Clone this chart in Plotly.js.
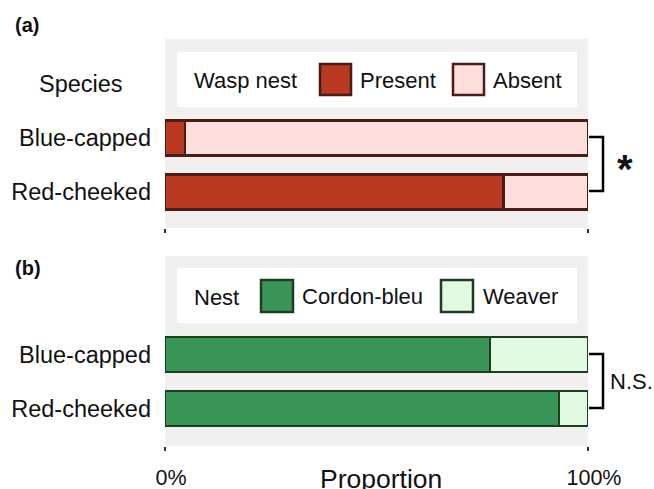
<!DOCTYPE html>
<html>
<head>
<meta charset="utf-8">
<script src="https://cdn.plot.ly/plotly-3.0.1.min.js"></script>
<style>html,body{margin:0;padding:0;background:#fff;}#chart{width:654px;height:489px;}</style>
</head>
<body>
<div id="chart"></div>
<script>
// ---- data ----
const species = ['Red-cheeked', 'Blue-capped'];
const waspPresent = [0.80, 0.047];
const waspAbsent = [0.20, 0.953];
const nestCordon = [0.931, 0.768];
const nestWeaver = [0.069, 0.232];
const xTickVals = [0, 1];
const xTickText = ['0%', '100%'];
const waspLegend = ['Present', 'Absent'];
const nestLegend = ['Cordon-bleu', 'Weaver'];

// ---- styles ----
const FONT = 'Liberation Sans, Arial, Helvetica, sans-serif';
const TXT = '#111111';
const RED = '#B73A21', PINK = '#FDDEDB', RED_EDGE = '#4B1B16';
const GREEN = '#3A9558', MINT = '#E2F9E2', GREEN_EDGE = '#1B3F1F';
const BG = '#F1EFEF';

const W = 654, H = 489, ML = 165, MR = 66, MT = 39, MB = 43;
const PW = W - ML - MR, PH = H - MT - MB;
const px = x => (x - ML) / PW;
const py = y => (H - MB - y) / PH;

function bar(name, x, color, edge, xa, ya) {
  return {
    type: 'bar', orientation: 'h', name: name, y: species, x: x,
    xaxis: xa, yaxis: ya,
    marker: {color: color, line: {color: edge, width: 2.5}},
    showlegend: false, hoverinfo: 'x+y'
  };
}

const data = [
  bar(waspLegend[0], waspPresent, RED, RED_EDGE, 'x', 'y'),
  bar(waspLegend[1], waspAbsent, PINK, RED_EDGE, 'x', 'y'),
  bar(nestLegend[0], nestCordon, GREEN, GREEN_EDGE, 'x2', 'y2'),
  bar(nestLegend[1], nestWeaver, MINT, GREEN_EDGE, 'x2', 'y2')
];

function rect(x0, y0, x1, y1, fill, edge, lw) {
  return {type: 'rect', xref: 'paper', yref: 'paper', x0: px(x0), x1: px(x1), y0: py(y1), y1: py(y0),
    fillcolor: fill, line: {color: edge || fill, width: lw || 0}, layer: 'above'};
}
function bracket(x0, x1, y0, y1) {
  return {type: 'path', xref: 'paper', yref: 'paper',
    path: `M${px(x0)},${py(y0)} L${px(x1)},${py(y0)} L${px(x1)},${py(y1)} L${px(x0)},${py(y1)}`,
    line: {color: '#000', width: 2.5}, layer: 'above'};
}
function txt(text, x, y, size, anchor, extra) {
  return Object.assign({text: text, xref: 'paper', yref: 'paper', x: px(x), y: py(y),
    xanchor: anchor || 'left', yanchor: 'middle', showarrow: false,
    font: {family: FONT, size: size, color: TXT}}, extra || {});
}

const shapes = [
  rect(177, 52, 577, 107, '#FFFFFF'),
  rect(320, 64, 351, 95, RED, RED_EDGE, 2.5),
  rect(453, 64, 484, 95, PINK, RED_EDGE, 2.5),
  rect(177, 268, 577, 323, '#FFFFFF'),
  rect(261, 280, 293, 312, GREEN, GREEN_EDGE, 2.5),
  rect(441, 280, 473, 312, MINT, GREEN_EDGE, 2.5),
  bracket(589, 603, 137, 191),
  bracket(589, 603, 354, 408)
];

const annotations = [
  txt('<b>(a)</b>', 13, 25, 20),
  txt('<b>(b)</b>', 13, 268, 20),
  txt('Species', 81, 84, 23.5, 'center'),
  txt('Wasp nest', 192, 80, 22),
  txt(waspLegend[0], 358, 80, 22),
  txt(waspLegend[1], 491, 80, 22),
  txt('Nest', 192, 297, 22),
  txt(nestLegend[0], 300, 296, 22),
  txt(nestLegend[1], 481, 296, 22),
  txt('<b>*</b>', 625, 169, 40, 'center'),
  txt('N.S.', 608, 381, 22),
  txt('Proportion', 381, 479, 26.5, 'center')
];

const xBase = {range: [0, 1], showgrid: false, zeroline: false, showline: false,
  ticks: 'outside', ticklen: 4, tickwidth: 2, tickcolor: '#333',
  tickvals: xTickVals, ticktext: xTickText, fixedrange: true};
const yBase = {type: 'category', categoryorder: 'array', categoryarray: species,
  showgrid: false, zeroline: false, showline: false, ticks: '',
  tickfont: {family: FONT, size: 23.5, color: TXT}, ticklabelstandoff: 13, fixedrange: true};

const layout = {
  width: W, height: H,
  margin: {l: ML, r: MR, t: MT, b: MB, pad: 0},
  paper_bgcolor: '#FFFFFF', plot_bgcolor: BG,
  barmode: 'stack', bargap: 0.35,
  showlegend: false,
  font: {family: FONT, color: TXT},
  xaxis: Object.assign({}, xBase, {anchor: 'y', showticklabels: false}),
  yaxis: Object.assign({}, yBase, {domain: [py(228), 1], range: [-0.667, 2.833]}),
  xaxis2: Object.assign({}, xBase, {anchor: 'y2', showticklabels: true,
    tickfont: {family: FONT, size: 21.5, color: TXT}, ticklabelstandoff: 8, ticklabelshift: 6}),
  yaxis2: Object.assign({}, yBase, {domain: [0, py(256)], range: [-0.7, 2.83]}),
  shapes: shapes,
  annotations: annotations
};

Plotly.newPlot('chart', data, layout, {displayModeBar: false, staticPlot: true});
</script>
</body>
</html>
